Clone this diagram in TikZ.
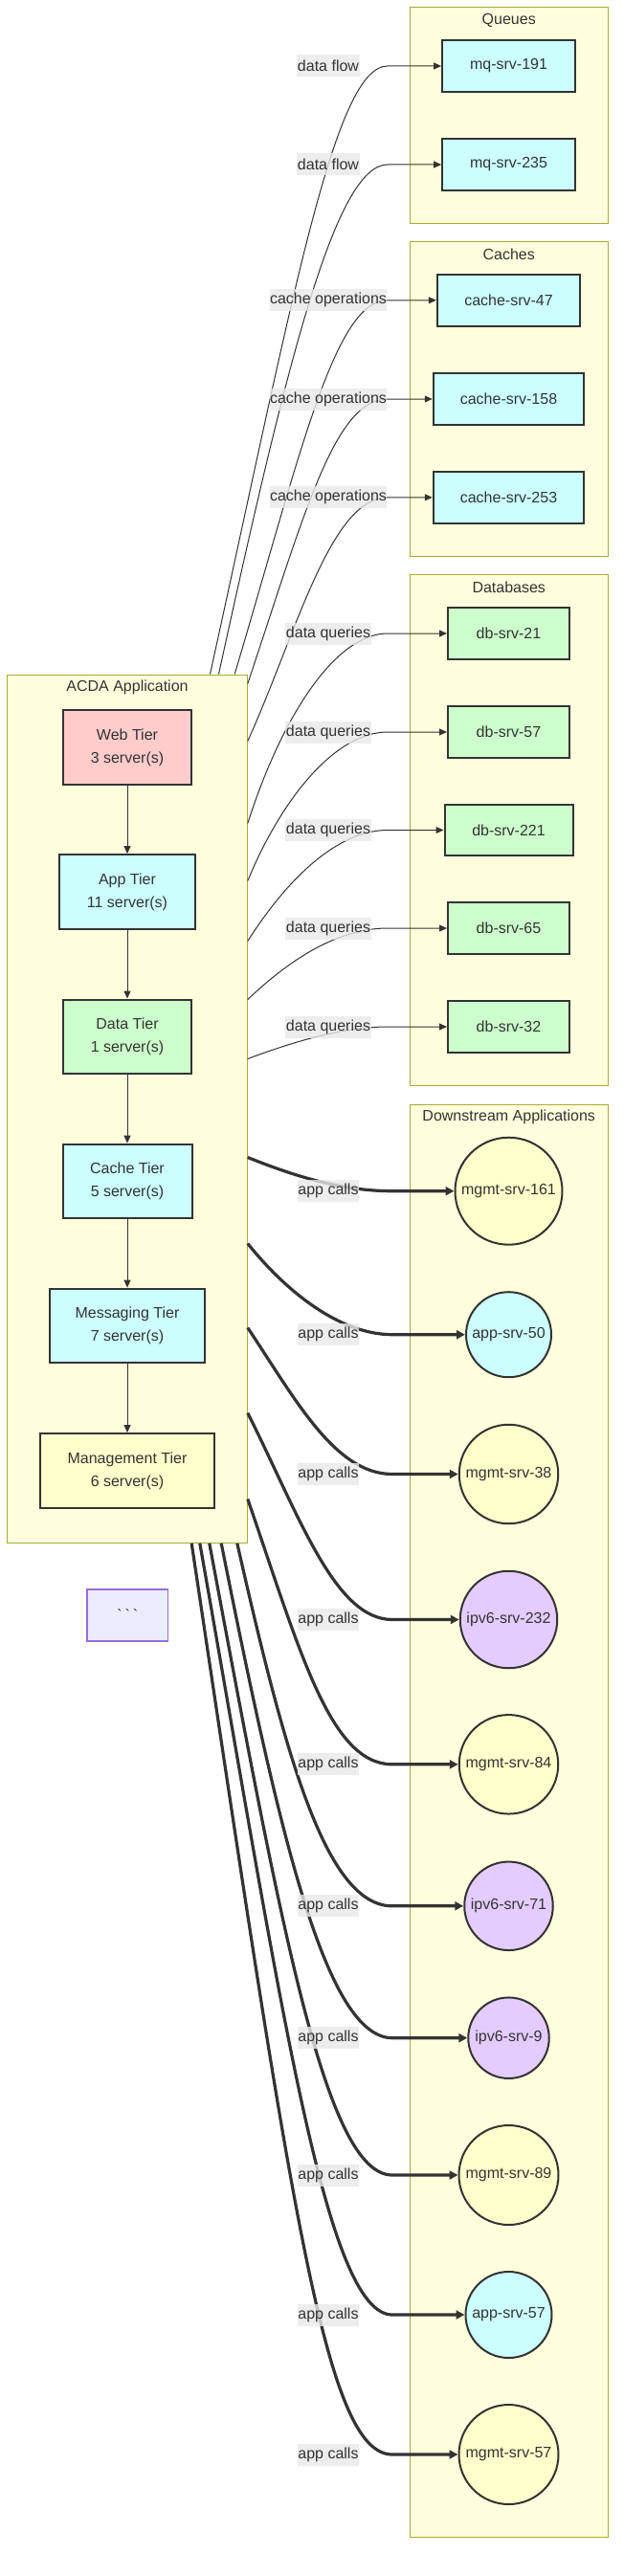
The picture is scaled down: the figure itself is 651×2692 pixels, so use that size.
\documentclass[tikz,border=0pt]{standalone}
\usepackage{fontspec}
\setmainfont{Liberation Sans}
\usetikzlibrary{arrows.meta,calc}
\definecolor{clfill}{HTML}{FFFFDE}
\definecolor{cldraw}{HTML}{AAAA33}
\definecolor{ink}{HTML}{333333}
\definecolor{pinkf}{HTML}{FFCCCC}
\definecolor{cyanf}{HTML}{CCFFFF}
\definecolor{greenf}{HTML}{CCFFCC}
\definecolor{yellowf}{HTML}{FFFFCC}
\definecolor{purplef}{HTML}{E5CCFF}
\definecolor{dotsf}{HTML}{ECECFF}
\definecolor{dotsd}{HTML}{9370DB}
\definecolor{lblf}{HTML}{E8E8E8}
\newcommand\mfont{\fontsize{16}{24}\selectfont}
\tikzset{
  cluster/.style={draw=cldraw, fill=clfill, line width=1pt, inner sep=0pt},
  ctitle/.style={text=ink, font=\mfont, inner sep=0pt},
  box/.style={draw=ink, line width=2pt, text=ink, font=\mfont, align=center, inner sep=0pt, minimum height=53.7pt},
  tier/.style={box, minimum height=77.7pt},
  srv/.style={circle, draw=ink, line width=2pt, text=ink, font=\mfont, inner sep=0pt},
  lbl/.style={fill=lblf, fill opacity=0.8, text opacity=1, text=ink, font=\mfont, inner xsep=0.5pt, inner ysep=0pt, minimum height=23pt},
  link/.style={draw=ink, line width=1pt, -{Triangle[length=8pt,width=7pt]}},
  fat/.style={draw=ink, line width=3.2pt, -{Triangle[length=9pt,width=9pt]}},
}
\begin{document}
\begin{tikzpicture}[x=1pt, y=-1pt]
\useasboundingbox (0,0) rectangle (651,2692);
% clusters
\node[cluster, minimum width=206.7pt, minimum height=225.7pt] (queues) at (531.75,120.55) {};
\node[cluster, minimum width=206.7pt, minimum height=328.4pt] (caches) at (531.75,416.8) {};
\node[cluster, minimum width=206.7pt, minimum height=533.3pt] (dbs) at (531.75,867.35) {};
\node[cluster, minimum width=206.7pt, minimum height=1497pt] (down) at (531.75,1902.5) {};
\node[cluster, minimum width=250.8pt, minimum height=907.3pt] (acda) at (132.9,1158.65) {};
\node[ctitle] (tq) at (531.75,21) {Queues};
\node[ctitle] (tc) at (531.75,266) {Caches};
\node[ctitle] (td) at (531.75,614) {Databases};
\node[ctitle] (tdn) at (531.75,1167) {Downstream Applications};
\node[ctitle] (ta) at (133,718) {ACDA Application};
% tiers
\node[tier, fill=pinkf, minimum width=134.4pt] (web) at (133,781) {Web Tier\\3 server(s)};
\node[tier, fill=cyanf, minimum width=142.8pt] (app) at (133,932) {App Tier\\11 server(s)};
\node[tier, fill=greenf, minimum width=134.4pt] (data) at (133,1083.4) {Data Tier\\1 server(s)};
\node[tier, fill=cyanf, minimum width=135pt] (cachet) at (133,1234.5) {Cache Tier\\5 server(s)};
\node[tier, fill=cyanf, minimum width=162.3pt] (msg) at (133,1385.5) {Messaging Tier\\7 server(s)};
\node[tier, fill=yellowf, minimum width=182.3pt] (mgmt) at (133,1537) {Management Tier\\6 server(s)};
\node[draw=dotsd, fill=dotsf, line width=1.5pt, minimum width=84.6pt, minimum height=54pt, text=ink, font=\mfont, inner sep=0pt] (dots) at (133.3,1688) {\textasciigrave\hspace{3pt}\textasciigrave\hspace{3pt}\textasciigrave};
% queues, caches
\node[box, fill=cyanf, minimum width=138.7pt] (q1) at (531.5,69) {mq-srv-191};
\node[box, fill=cyanf, minimum width=138.7pt] (q2) at (531.5,172) {mq-srv-235};
\node[box, fill=cyanf, minimum width=149.4pt] (c1) at (531.5,313.8) {cache-srv-47};
\node[box, fill=cyanf, minimum width=157.5pt] (c2) at (531.5,417) {cache-srv-158};
\node[box, fill=cyanf, minimum width=157.5pt] (c3) at (531.5,519.8) {cache-srv-253};
% databases
\node[box, fill=greenf, minimum width=127pt] (d1) at (531.5,662) {db-srv-21};
\node[box, fill=greenf, minimum width=127pt] (d2) at (531.5,765) {db-srv-57};
\node[box, fill=greenf, minimum width=134pt] (d3) at (531.5,867.5) {db-srv-221};
\node[box, fill=greenf, minimum width=127pt] (d4) at (531.5,970) {db-srv-65};
\node[box, fill=greenf, minimum width=127pt] (d5) at (531.5,1073) {db-srv-32};
% downstream
\node[srv, fill=yellowf, minimum size=112pt] (n1) at (531.5,1244.7) {mgmt-srv-161};
\node[srv, fill=cyanf, minimum size=89pt] (n2) at (531.5,1394.7) {app-srv-50};
\node[srv, fill=yellowf, minimum size=103.5pt] (n3) at (531.5,1540.5) {mgmt-srv-38};
\node[srv, fill=purplef, minimum size=101.5pt] (n4) at (531.5,1692.5) {ipv6-srv-232};
\node[srv, fill=yellowf, minimum size=103.5pt] (n5) at (531.5,1843.8) {mgmt-srv-84};
\node[srv, fill=purplef, minimum size=92.5pt] (n6) at (531.5,1991.8) {ipv6-srv-71};
\node[srv, fill=purplef, minimum size=84.5pt] (n7) at (531.5,2129.7) {ipv6-srv-9};
\node[srv, fill=yellowf, minimum size=104pt] (n8) at (531.5,2273) {mgmt-srv-89};
\node[srv, fill=cyanf, minimum size=90pt] (n9) at (531.5,2419) {app-srv-57};
\node[srv, fill=yellowf, minimum size=104pt] (n10) at (531.5,2565) {mgmt-srv-57};
% tier chain
\draw[link] (web) -- (app);
\draw[link] (app) -- (data);
\draw[link] (data) -- (cachet);
\draw[link] (cachet) -- (msg);
\draw[link] (msg) -- (mgmt);
% helper coordinates
\coordinate (bx) at (405,0);
\coordinate (bt) at (410,0);
\coordinate (lx) at (343,0);
\coordinate (sq1) at ($(acda.north west)+(212.5,0)$);
\coordinate (sq2) at ($(acda.north west)+(221.5,0)$);
\coordinate (sc1) at ($(acda.north west)+(238.2,0)$);
\coordinate (sc2) at ($(acda.north east)+(0,10)$);
\coordinate (sc3) at ($(acda.north east)+(0,70)$);
\coordinate (sd1) at ($(acda.north east)+(0,156)$);
\coordinate (sd2) at ($(acda.north east)+(0,216)$);
\coordinate (sd3) at ($(acda.north east)+(0,279)$);
\coordinate (sd4) at ($(acda.north east)+(0,340)$);
\coordinate (sd5) at ($(acda.north east)+(0,402)$);
\coordinate (sn1) at ($(acda.north east)+(0,505)$);
\coordinate (sn2) at ($(acda.north east)+(0,595)$);
\coordinate (sn3) at ($(acda.north east)+(0,683)$);
\coordinate (sn4) at ($(acda.north east)+(0,772)$);
\coordinate (sn5) at ($(acda.north east)+(0,862)$);
\coordinate (sn6) at ($(acda.south west)+(240.8,0)$);
\coordinate (sn7) at ($(acda.south west)+(224.2,0)$);
\coordinate (sn8) at ($(acda.south west)+(211.8,0)$);
\coordinate (sn9) at ($(acda.south west)+(201.8,0)$);
\coordinate (sn10) at ($(acda.south west)+(193.2,0)$);
% thin edges
\draw[link] (sq1) .. controls +(88,-400) and +(-55,0) .. (bx |- q1) -- (q1);
\draw[link] (sq2) .. controls +(70,-320) and +(-55,0) .. (bx |- q2) -- (q2);
\draw[link] (sc1) .. controls +(70,-235) and +(-55,0) .. (bx |- c1) -- (c1);
\draw[link] (sc2) .. controls +(60,-180) and +(-55,0) .. (bx |- c2) -- (c2);
\draw[link] (sc3) .. controls +(50,-110) and +(-60,0) .. (bx |- c3) -- (c3);
\draw[link] (sd1) .. controls +(35,-110) and +(-55,0) .. (bx |- d1) -- (d1);
\draw[link] (sd2) .. controls +(35,-85) and +(-55,0) .. (bx |- d2) -- (d2);
\draw[link] (sd3) .. controls +(38,-60) and +(-55,0) .. (bx |- d3) -- (d3);
\draw[link] (sd4) .. controls +(40,-38) and +(-55,0) .. (bx |- d4) -- (d4);
\draw[link] (sd5) .. controls +(40,-15) and +(-50,0) .. (bx |- d5) -- (d5);
% thick edges
\draw[fat] (sn1) .. controls +(45,18) and +(-55,0) .. (bt |- n1) -- (n1);
\draw[fat] (sn2) .. controls +(40,50) and +(-55,0) .. (bt |- n2) -- (n2);
\draw[fat] (sn3) .. controls +(50,75) and +(-60,0) .. (bt |- n3) -- (n3);
\draw[fat] (sn4) .. controls +(55,110) and +(-60,0) .. (bt |- n4) -- (n4);
\draw[fat] (sn5) .. controls +(55,160) and +(-65,0) .. (bt |- n5) -- (n5);
\draw[fat] (sn6) .. controls +(50,220) and +(-70,0) .. (bt |- n6) -- (n6);
\draw[fat] (sn7) .. controls +(60,300) and +(-70,0) .. (bt |- n7) -- (n7);
\draw[fat] (sn8) .. controls +(75,400) and +(-70,0) .. (bt |- n8) -- (n8);
\draw[fat] (sn9) .. controls +(85,480) and +(-70,0) .. (bt |- n9) -- (n9);
\draw[fat] (sn10) .. controls +(105,700) and +(-70,0) .. (bt |- n10) -- (n10);
% edge labels
\node[lbl] (lq1) at (lx |- q1) {data flow};
\node[lbl] (lq2) at (lx |- q2) {data flow};
\node[lbl] (lc1) at (lx |- c1) {cache operations};
\node[lbl] (lc2) at (lx |- c2) {cache operations};
\node[lbl] (lc3) at (lx |- c3) {cache operations};
\node[lbl] (ld1) at (lx |- d1) {data queries};
\node[lbl] (ld2) at (lx |- d2) {data queries};
\node[lbl] (ld3) at (lx |- d3) {data queries};
\node[lbl] (ld4) at (lx |- d4) {data queries};
\node[lbl] (ld5) at (lx |- d5) {data queries};
\node[lbl] (ln1) at (lx |- n1) {app calls};
\node[lbl] (ln2) at (lx |- n2) {app calls};
\node[lbl] (ln3) at (lx |- n3) {app calls};
\node[lbl] (ln4) at (lx |- n4) {app calls};
\node[lbl] (ln5) at (lx |- n5) {app calls};
\node[lbl] (ln6) at (lx |- n6) {app calls};
\node[lbl] (ln7) at (lx |- n7) {app calls};
\node[lbl] (ln8) at (lx |- n8) {app calls};
\node[lbl] (ln9) at (lx |- n9) {app calls};
\node[lbl] (ln10) at (lx |- n10) {app calls};
\end{tikzpicture}
\end{document}
